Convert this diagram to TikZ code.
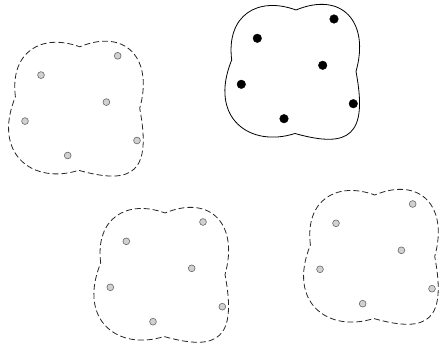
\documentclass[tikz,border=0pt]{standalone}
\usepackage{tikz}

\begin{document}
\begin{tikzpicture}[x=1pt, y=-1pt,
  hull/.style={line width=0.8pt},
  ghosthull/.style={hull, draw=black!85, dash pattern=on 6pt off 3pt},
  realhull/.style={hull, draw=black},
  ghostdot/.style={fill=black!18, draw=black!60, line width=0.6pt},
  realdot/.style={fill=black, draw=black}]
\useasboundingbox (0,0) rectangle (442,344);
% one cluster outline, four copies
\foreach \dx/\dy/\hullstyle/\dotstyle/\r in {-216.3/36.8/ghosthull/ghostdot/3.4, 0/0/realhull/realdot/4.3, -131/203/ghosthull/ghostdot/3.4, 78.7/185/ghosthull/ghostdot/3.4}{
  \begin{scope}[shift={(\dx,\dy)}]
    \draw[\hullstyle] (231.7,60) .. controls (226,15) and (258,-4) .. (296,10)
      .. controls (342,-9) and (370,22) .. (356,71.5)
      .. controls (368,135) and (350,149) .. (295,133.5)
      .. controls (250,148) and (208,118) .. (231.7,60) -- cycle;
    \foreach \px/\py in {257.3/38.3, 334/19, 322.7/65.3, 241.3/84.3, 353.3/103.7, 284/118.7}
      \filldraw[\dotstyle] (\px,\py) circle[radius=\r];
  \end{scope}
}
\end{tikzpicture}
\end{document}
